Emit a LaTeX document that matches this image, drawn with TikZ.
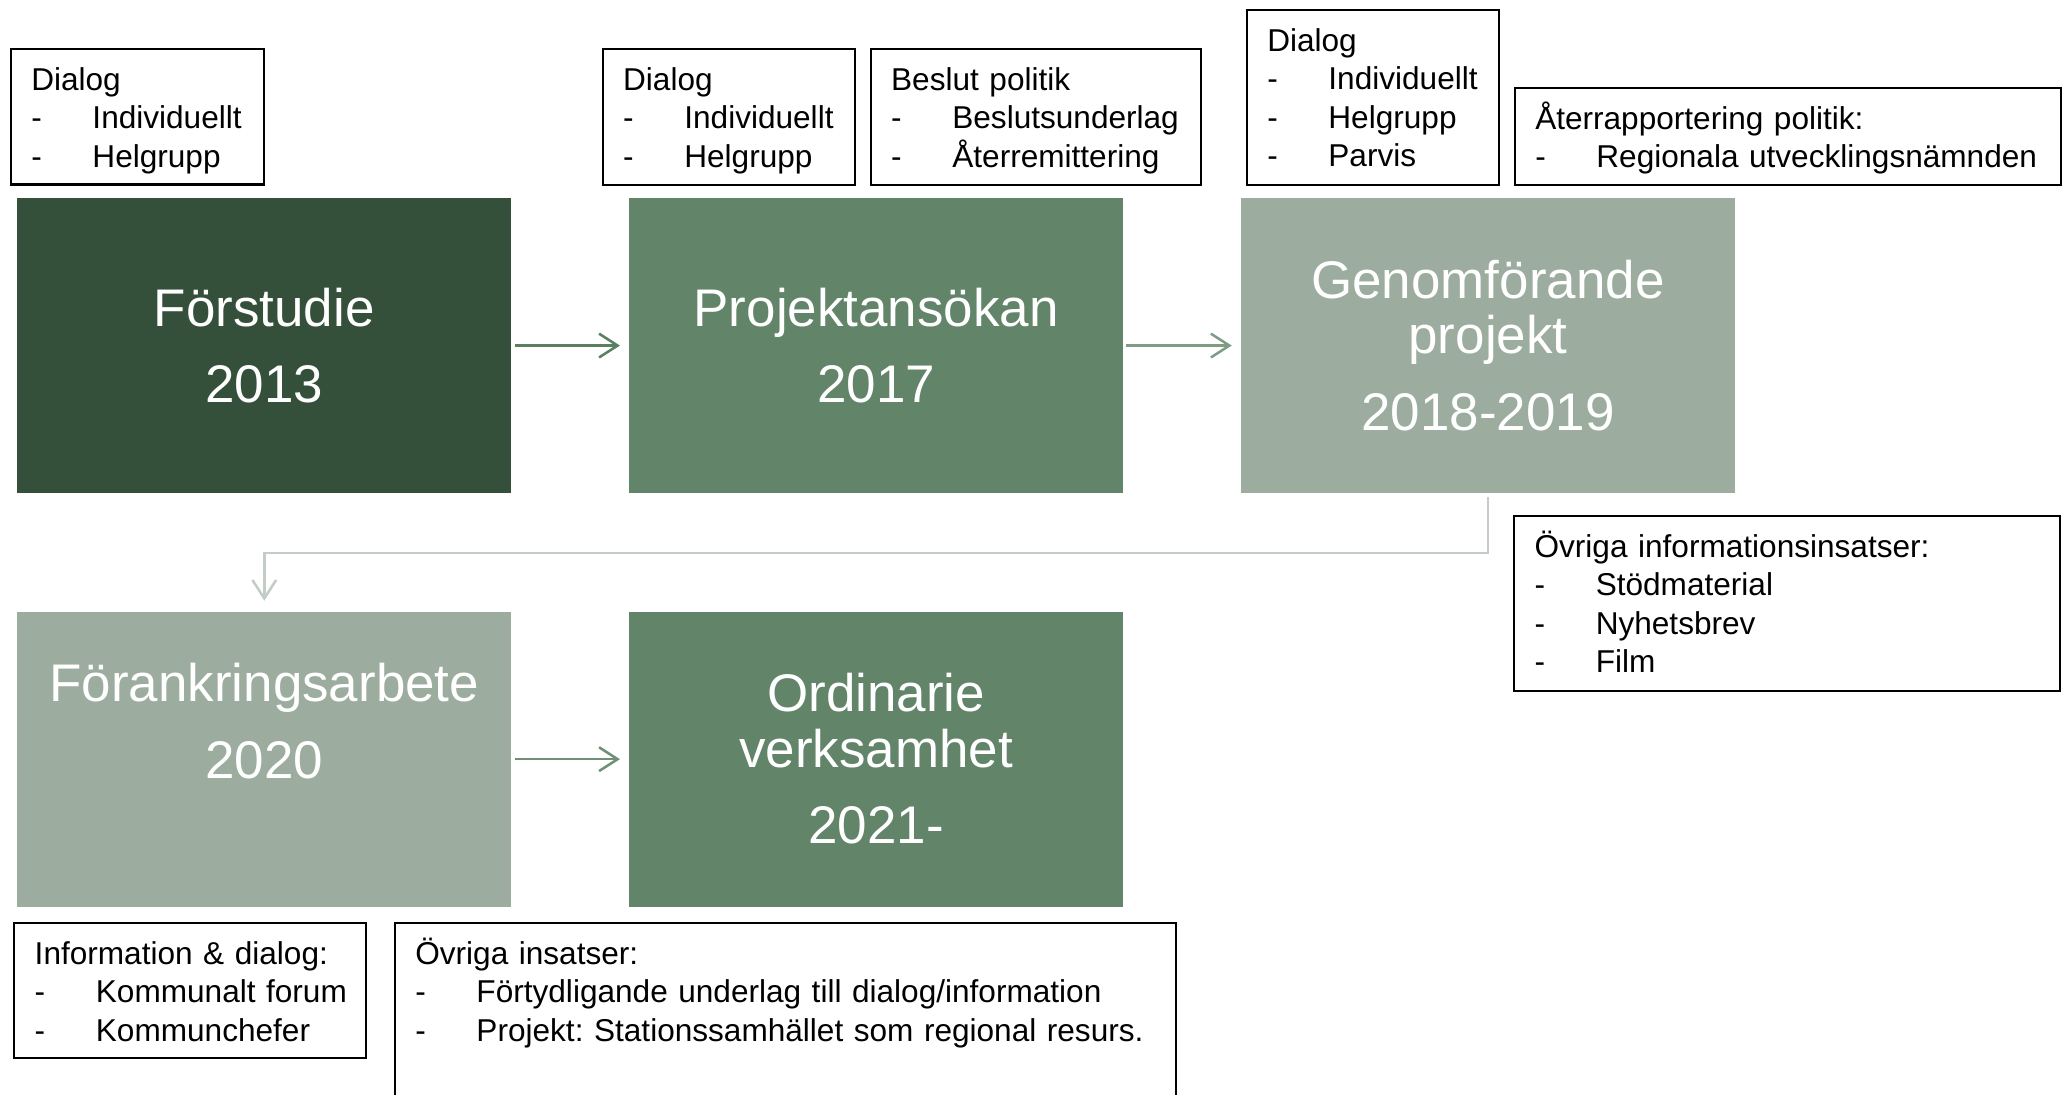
\documentclass[tikz,border=0pt]{standalone}
\usepackage{fontspec}
\setmainfont{Liberation Sans}
\usetikzlibrary{arrows.meta}
\frenchspacing

\definecolor{darkgreen}{HTML}{35503A}
\definecolor{midgreen}{HTML}{62856A}
\definecolor{lightgreen}{HTML}{9CAD9F}
\definecolor{arrowdark}{HTML}{5A7F61}
\definecolor{arrowmid}{HTML}{6F9076}
\definecolor{arrowlight}{HTML}{7F9C85}
\definecolor{linegrey}{HTML}{C3CDC5}

\newcommand{\punkt}[1]{\mbox{\makebox[0.926cm][l]{-}#1}}

\tikzset{
  stage/.style={minimum width=7.48cm, minimum height=4.46cm, inner sep=0pt,
    text=white, align=center, text width=7.4cm, text height=0.572cm,
    font=\fontsize{22.8}{23.9}\selectfont},
  infobox/.style={draw=black, line width=0.9pt, anchor=north west, align=left,
    inner xsep=0.31cm, inner ysep=0pt, text height=0.62cm,
    font=\fontsize{13.6}{16.5}\selectfont},
  flow/.style={-{Straight Barb[length=0.28cm,width=0.36cm]}, line width=1.1pt,
    shorten <=0.04cm, shorten >=0.13cm}
}

\begin{document}
\begin{tikzpicture}
\useasboundingbox (0,0) rectangle (31.36,-16.56);
% stages
\node [stage, fill=darkgreen] (fs) at (4.00,-5.23) {Förstudie\\[9pt]2013};
\node [stage, fill=midgreen] (pa) at (13.26,-5.23) {Projektansökan\\[9pt]2017};
\node [stage, fill=lightgreen] (gp) at (22.52,-5.23) {Genomförande\\projekt\\[9pt]2018-2019};
\node [stage, fill=lightgreen] (fa) at (4.00,-11.49) {Förankringsarbete\\[9pt]2020\\[9pt]~};
\node [stage, fill=midgreen] (ov) at (13.26,-11.49) {Ordinarie\\verksamhet\\[9pt]2021-};
% text boxes
\node [infobox, text width=3.206cm, text depth=1.424cm] (dlg1) at (0.148,-0.732)
  {Dialog\\\punkt{Individuellt}\\\punkt{Helgrupp}};
\node [infobox, text width=3.192cm, text depth=1.434cm] (dlg2) at (9.106,-0.732)
  {Dialog\\\punkt{Individuellt}\\\punkt{Helgrupp}};
\node [infobox, text width=4.38cm, text depth=1.434cm] (beslut) at (13.162,-0.732)
  {Beslut politik\\\punkt{Beslutsunderlag}\\\punkt{Återremittering}};
\node [infobox, text width=3.20cm, text depth=2.024cm] (dlg3) at (18.854,-0.142)
  {Dialog\\\punkt{Individuellt}\\\punkt{Helgrupp}\\\punkt{Parvis}};
\node [infobox, text width=7.65cm, text depth=0.844cm] (aterrapp) at (22.91,-1.322)
  {Återrapportering politik:\\\punkt{Regionala utvecklingsnämnden}};
\node [infobox, text width=7.64cm, text depth=2.02cm] (ovrinfo) at (22.90,-7.80)
  {Övriga informationsinsatser:\\\punkt{Stödmaterial}\\\punkt{Nyhetsbrev}\\\punkt{Film}};
\node [infobox, text width=4.70cm, text depth=1.42cm] (infodlg) at (0.20,-13.96)
  {Information \& dialog:\\\punkt{Kommunalt forum}\\\punkt{Kommunchefer}};
\node [infobox, text width=11.20cm, text depth=2.62cm] (ovrins) at (5.96,-13.96)
  {Övriga insatser:\\\punkt{Förtydligande underlag till dialog/information}\\\punkt{Projekt: Stationssamhället som regional resurs.}};
% arrows
\draw [flow, arrowdark] (fs.east) -- (pa.west);
\draw [flow, arrowlight] (pa.east) -- (gp.west);
\draw [flow, arrowmid] (fa.east) -- (ov.west);
\draw [flow, linegrey, shorten <=0.06cm, shorten >=0.16cm] (gp.south) -- ++(0,-0.9) -| (fa.north);
\end{tikzpicture}
\end{document}
